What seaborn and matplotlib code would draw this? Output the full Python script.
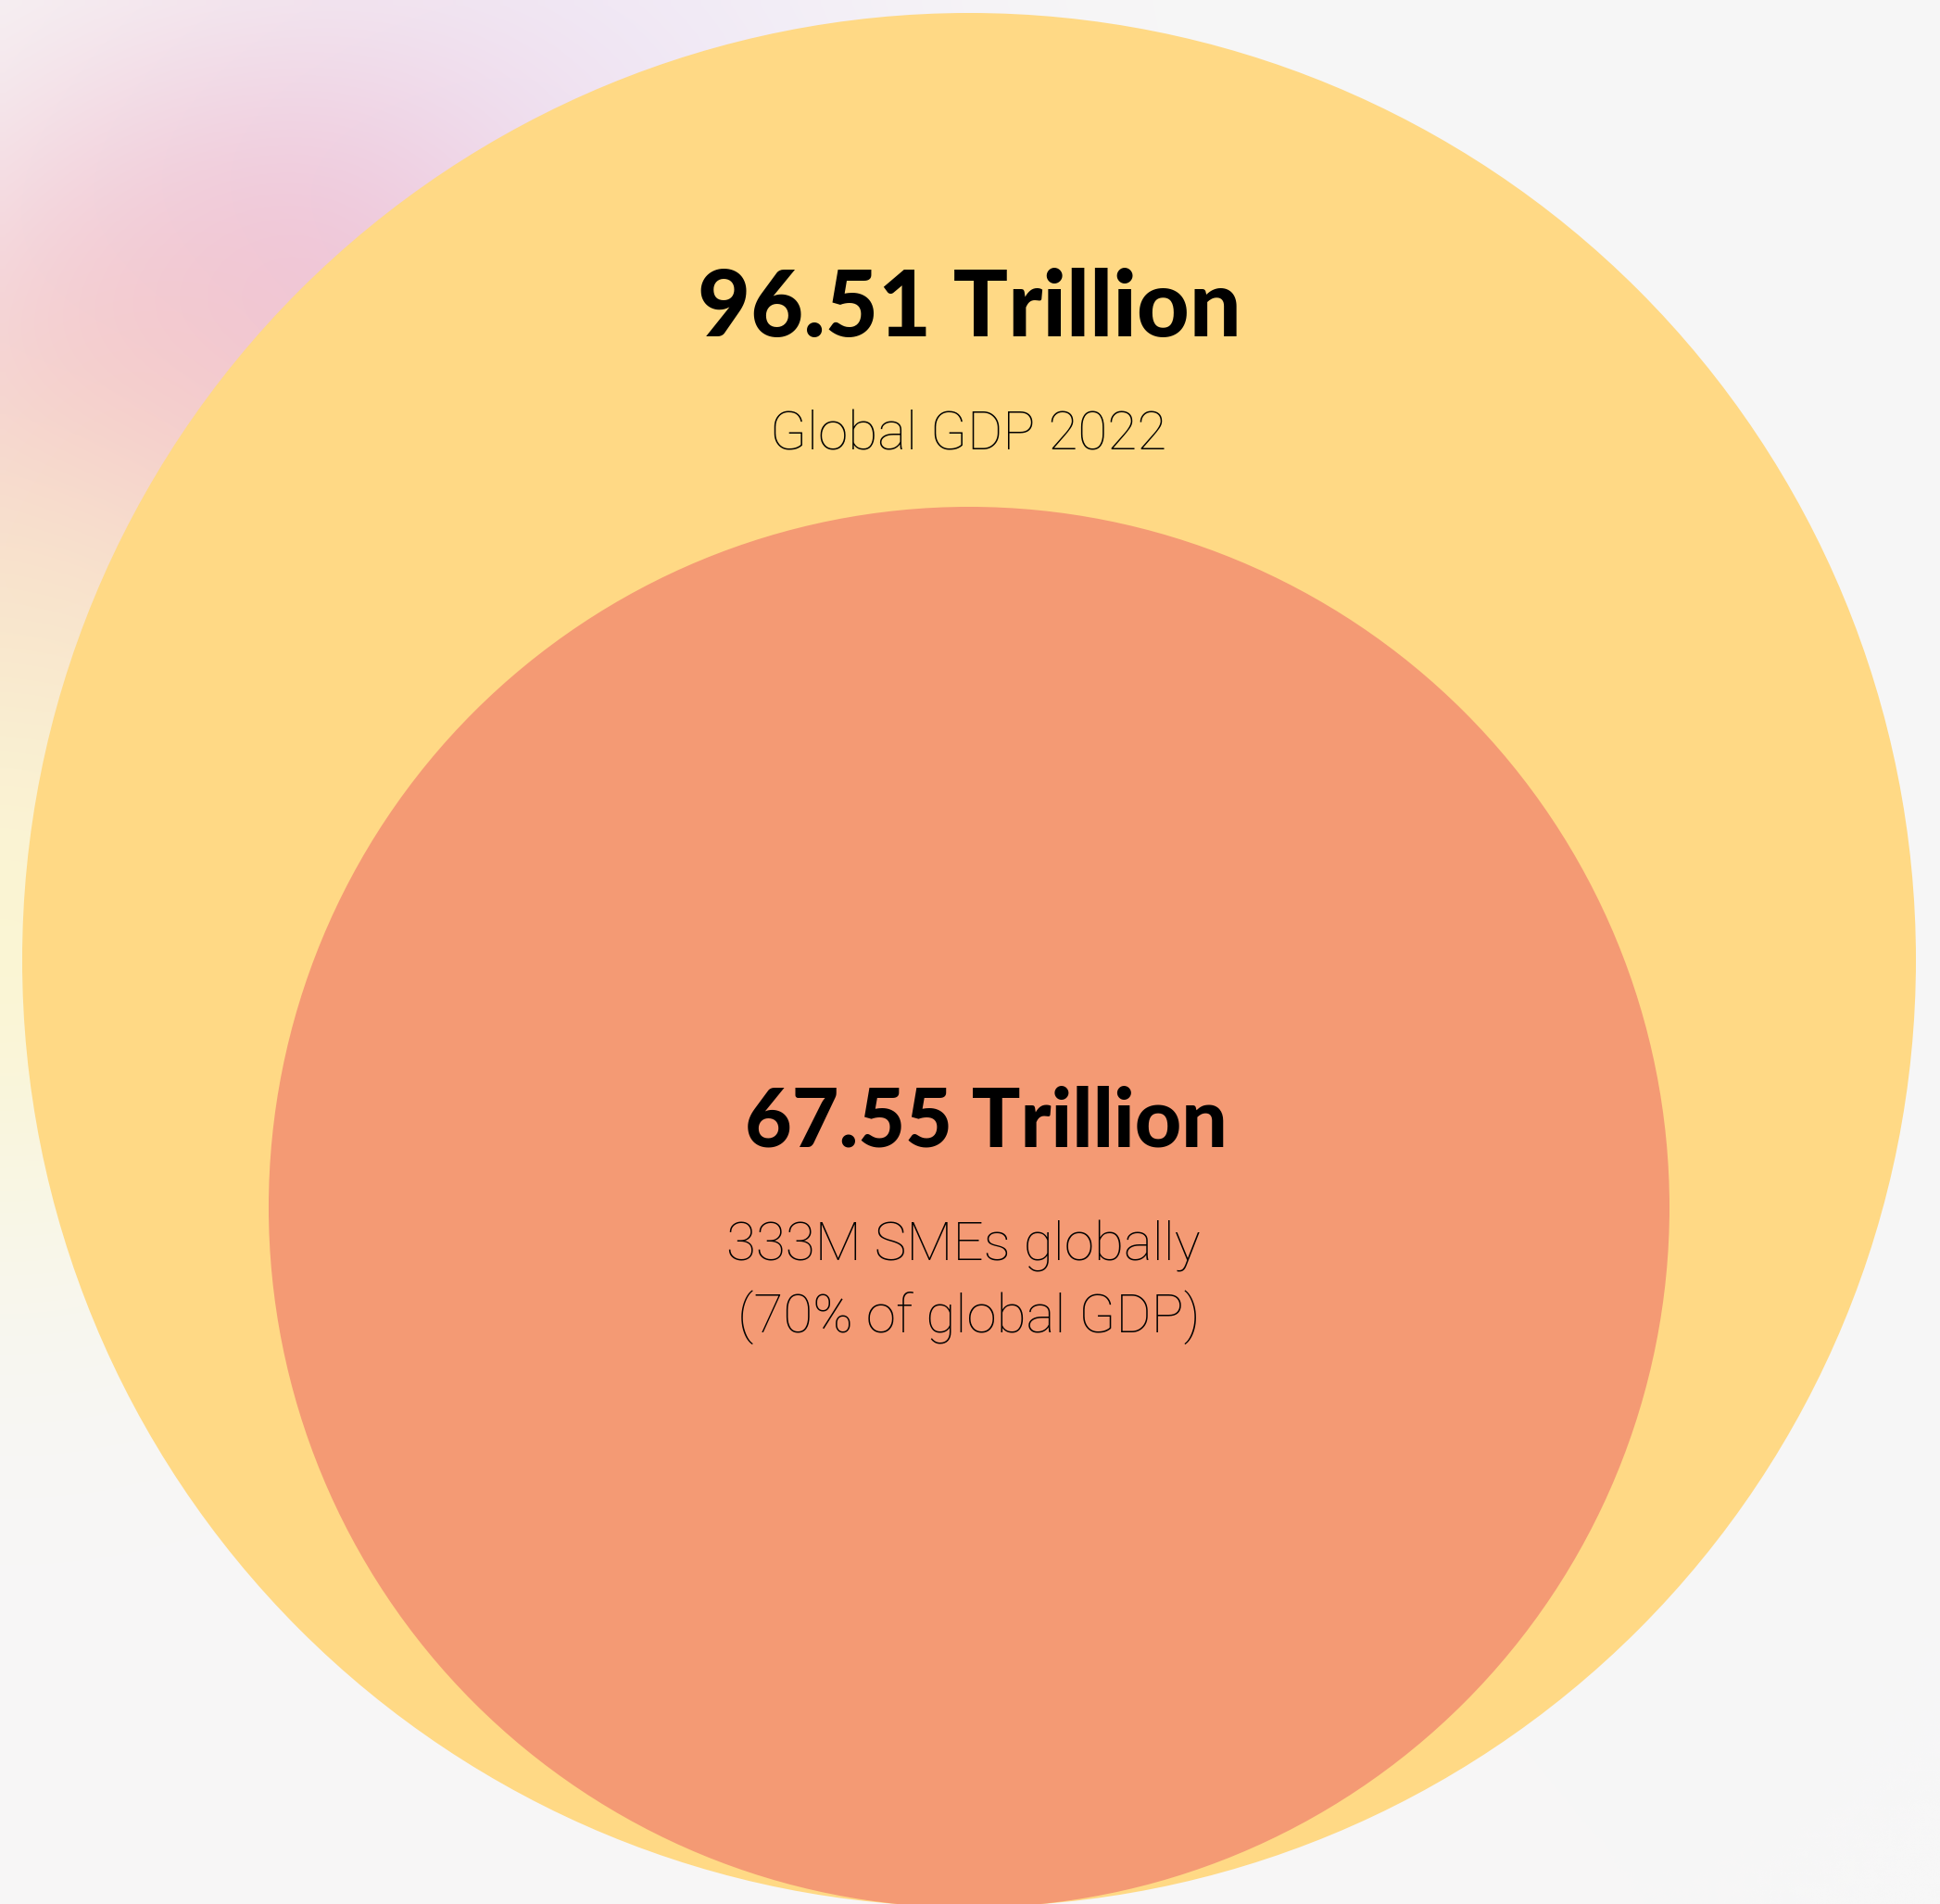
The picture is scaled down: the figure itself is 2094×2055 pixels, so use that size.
import numpy as np
import matplotlib
matplotlib.use("Agg")
import matplotlib.pyplot as plt
from matplotlib.patches import Ellipse
import seaborn as sns

# ---- data ----
labels_value = ["96.51 Trillion", "67.55 Trillion"]
desc_top = "Global GDP 2022"
desc_inner = ["333M SMEs globally", "(70% of global GDP)"]
values = [96.51, 67.55]
colors = ["#FFD985", "#F49A74"]

sns.set_theme(style="white")
plt.rcParams['font.family'] = ['Lato', 'DejaVu Sans']

W, H = 2094, 2055
fig = plt.figure(figsize=(W / 100, H / 100), dpi=100)
fig.patch.set_facecolor("#F7F7F7")
ax = fig.add_axes([0, 0, 1, 1])
ax.set_xlim(0, W)
ax.set_ylim(H, 0)
ax.axis("off")

# ---- soft background glow (top-left) ----
gw, gh = 210, 206
yy, xx = np.mgrid[0:gh, 0:gw] * 10.0
bg = np.ones((gh, gw, 3)) * (247 / 255)
blobs = [
    ((620, 130), 280, (238, 228, 246), 0.7),
    ((330, 340), 210, (236, 196, 222), 0.85),
    ((140, 460), 230, (243, 190, 202), 0.8),
    ((20, 690), 220, (248, 220, 198), 0.85),
    ((0, 1000), 260, (251, 246, 210), 0.9),
]
for (cx, cy), s, col, a in blobs:
    w = a * np.exp(-((xx - cx) ** 2 + (yy - cy) ** 2) / (2 * s ** 2))
    c = np.array(col) / 255
    bg = bg * (1 - w[..., None]) + c * w[..., None]
ax.imshow(bg, extent=[0, W, H, 0], interpolation="bilinear", zorder=0)

# ---- circles ----
centers = [(1046, 1036), (1046, 1303)]
radii = [1022, 756]
for (cx, cy), r, col in zip(centers, radii, colors):
    ax.add_patch(Ellipse((cx, cy), 2 * r, 2 * r, facecolor=col, edgecolor="none", zorder=2))

# ---- text ----
light = ['Roboto', 'DejaVu Sans']
ax.text(1046, 335, labels_value[0], ha="center", va="center", fontsize=71,
        fontweight="black", color="black", zorder=3)
ax.text(1045, 470, desc_top, ha="center", va="center", fontsize=42,
        fontweight="light", family=light, color="black", zorder=3)
ax.text(1064, 1212, labels_value[1], ha="center", va="center", fontsize=63,
        fontweight="black", color="black", zorder=3)
ax.text(1040, 1345, desc_inner[0], ha="center", va="center", fontsize=42,
        fontweight="light", family=light, color="black", zorder=3)
ax.text(1046, 1422, desc_inner[1], ha="center", va="center", fontsize=42,
        fontweight="light", family=light, color="black", zorder=3)

fig.savefig("out.png", dpi=100, facecolor=fig.get_facecolor())
